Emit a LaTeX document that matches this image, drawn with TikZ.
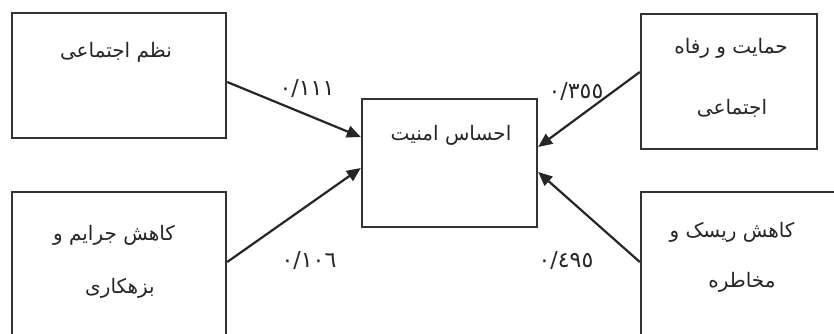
\documentclass[tikz,border=0pt]{standalone}
\usepackage{fontspec}
\usetikzlibrary{arrows.meta}
\TeXXeTstate=1
\newfontfamily\arabicfont[Script=Arabic]{DejaVu Sans}
\begin{document}
\begin{tikzpicture}[x=1pt,y=-1pt,
  box/.style={draw=black!80,line width=2.4pt,inner sep=0pt},
  txt/.style={font=\arabicfont\fontsize{20}{24}\selectfont,inner sep=0pt,text=black!85},
  num/.style={font=\arabicfont\fontsize{22}{26}\selectfont,inner sep=0pt,text=black!85},
  arr/.style={line width=2.2pt,draw=black!85,-{Triangle[length=14pt,width=12pt]}}]
\useasboundingbox (0,0) rectangle (834,334);
\clip (0,0) rectangle (834,334);
\fill[white] (0,0) rectangle (834,334);
% boxes
\node[box,minimum width=214pt,minimum height=125pt] (tl) at (119,75.5) {};
\node[box,minimum width=214pt,minimum height=153pt] (bl) at (119,268.5) {};
\node[box,minimum width=176pt,minimum height=135pt] (tr) at (729,81.5) {};
\node[box,minimum width=204pt,minimum height=153pt] (br) at (743,268.5) {};
\node[box,minimum width=175pt,minimum height=128pt] (c) at (449.5,163) {};
% texts
\node[txt] (tlt) at (116,52) {\beginR نظم اجتماعی\endR};
\node[txt] (blt1) at (114,235) {\beginR کاهش جرایم و\endR};
\node[txt] (blt2) at (120,288) {\beginR بزهکاری\endR};
\node[txt] (trt1) at (731,48) {\beginR حمایت و رفاه\endR};
\node[txt] (trt2) at (732,108) {\beginR اجتماعی\endR};
\node[txt] (brt1) at (732,232) {\beginR کاهش ریسک و\endR};
\node[txt] (brt2) at (742,282) {\beginR مخاطره\endR};
\node[txt] (ct) at (451,135) {\beginR احساس امنیت\endR};
% arrows
\draw[arr] ([yshift=-6.5pt]tl.east) -- ([yshift=26pt]c.west);
\draw[arr] ([yshift=6.5pt]bl.east) -- ([yshift=-5pt]c.west);
\draw[arr] ([yshift=9.5pt]tr.west) -- ([yshift=16pt]c.east);
\draw[arr] ([yshift=6.5pt]br.west) -- ([yshift=-9pt]c.east);
% labels
\node[num] (l1) at (307,89) {٠/١١١};
\node[num] (l2) at (309,260) {٠/١٠٦};
\node[num] (l3) at (576,92) {٠/٣٥٥};
\node[num] (l4) at (566,260) {٠/٤٩٥};
\end{tikzpicture}
\end{document}
